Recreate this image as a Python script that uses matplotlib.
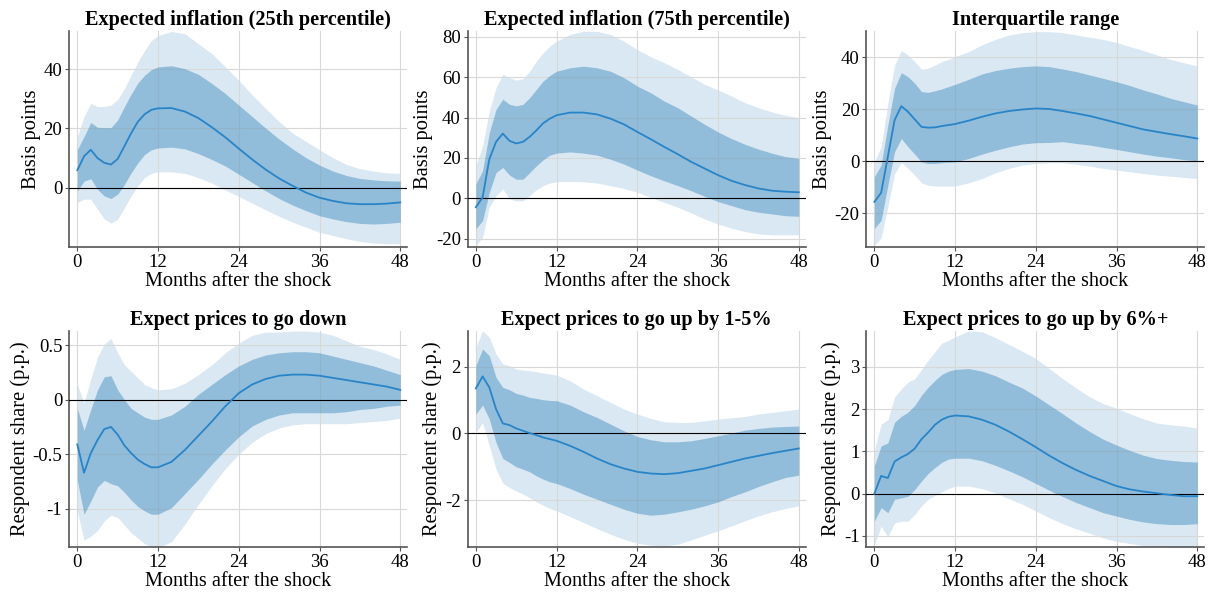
import matplotlib
matplotlib.use("Agg")
import matplotlib.pyplot as plt
import numpy as np

# months at which the responses are recorded
months = [0, 1, 2, 3, 4, 5, 6, 7, 8, 9, 10, 11, 12,
          14, 16, 18, 20, 22, 24, 26, 28, 30, 32, 34, 36, 38, 40, 42, 44, 46, 48]

# Expected inflation (25th percentile), basis points
p25_irf = [5.9, 10.6, 12.8, 10, 8.4, 7.8, 9.7, 14, 18.4, 22.3, 24.8, 26.3, 26.8,
           26.9, 25.7, 23.5, 20.4, 17, 13.2, 9.5, 6.1, 3.1, 0.6, -1.7, -3.4, -4.5, -5.3, -5.6, -5.6, -5.4, -5]
p25_hi68 = [12.8, 17.3, 22, 20.4, 20.3, 20.3, 22.9, 27.4, 31.6, 35.4, 38, 39.9, 40.8,
            41.2, 40.2, 38.3, 35.2, 31.8, 27.9, 24, 20.1, 16.4, 13.1, 10.1, 7.6, 5.6, 4.1, 3.1, 2.6, 2.3, 2.2]
p25_lo68 = [-1.1, 2.2, 3, -0.6, -2.8, -3.7, -2.2, 1.1, 5, 8.4, 11.2, 12.8, 13.4,
            13.7, 13.1, 11.5, 9.5, 7.3, 4.5, 1.7, -1.1, -3.7, -5.9, -7.8, -9.5, -10.6, -11.5, -12.1, -12.3, -12.1, -11.7]
p25_hi90 = [17.3, 24, 28.5, 27.4, 27.4, 27.9, 29.8, 33.5, 38, 42.5, 46.4, 49.7, 51.4,
            52.8, 52, 48.6, 45.3, 40.8, 36.3, 31.3, 26.8, 22.3, 18.4, 15.6, 12.8, 10.1, 7.8, 6.4, 5.6, 5, 4.8]
p25_lo90 = [-5, -3.9, -3.9, -7.3, -10.6, -12, -10.6, -6.7, -2.8, 0.6, 3.4, 4.8, 5.4,
            5.3, 4.8, 3.4, 1.5, -0.8, -3, -5.3, -7.5, -9.7, -11.7, -13.4, -15.1, -16.2, -17.3, -18.2, -18.7, -19, -19]

# Expected inflation (75th percentile), basis points
p75_irf = [-4.4, 0.5, 19.4, 28, 32.1, 28.5, 27.2, 28, 30.5, 33.7, 37.2, 39.5, 41.2,
           42.5, 42.5, 41.6, 39.5, 36.7, 32.9, 29.3, 25.5, 21.9, 18.1, 14.8, 11.5, 8.7, 6.6, 4.9, 3.8, 3.3, 3]
p75_hi68 = [7.1, 13.7, 32.6, 44.1, 49.1, 46.6, 45.8, 46.6, 49.9, 54, 58.1, 60.9, 63,
            64.7, 65.5, 64.7, 63, 59.8, 55.6, 52.3, 48.2, 44.9, 40.8, 36.7, 32.9, 29.6, 26.8, 24.4, 22.4, 20.7, 19.8]
p75_lo68 = [-15.1, -11, 3, 12.8, 15.3, 11.5, 9.5, 9.5, 12.8, 16.1, 19.1, 21.4, 22.4,
            23, 22.4, 21.4, 19.4, 17, 14, 11.2, 8.7, 6.3, 3.8, 1, -1.6, -3.6, -5.6, -6.9, -7.7, -8.6, -8.9]
p75_hi90 = [16.1, 26, 43.3, 54.8, 61.4, 59.8, 58.6, 59.3, 63, 68, 72.1, 75.4, 77.9,
            81.2, 82.8, 82.8, 81.2, 77.9, 73.7, 70.1, 67.2, 63.9, 60.2, 56.5, 53.7, 50.7, 47.4, 44.9, 42.8, 41.2, 40]
p75_lo90 = [-23.4, -19.3, -4.4, 1.3, 4.6, -0.3, -1.2, -1.2, 1.3, 4.3, 6.3, 7.6, 8.2,
            8.4, 8.2, 7.6, 6.3, 4.9, 3, 0.5, -2, -4.4, -7.2, -10.2, -12.7, -14.8, -16.5, -17.6, -18.1, -18.1, -18.1]

# Interquartile range, basis points
iqr_irf = [-15.7, -12.2, 1.7, 15.8, 21.2, 19, 16.1, 13.2, 12.9, 13, 13.5, 13.9, 14.3,
           15.6, 17.1, 18.4, 19.3, 19.9, 20.3, 20.1, 19.3, 18.4, 17.4, 16.1, 14.8, 13.5, 12.2, 11.3, 10.4, 9.6, 8.7]
iqr_hi68 = [-6, -1.5, 13.9, 28, 34.1, 32.5, 30, 26.8, 26.5, 27.1, 27.8, 28.7, 29.6,
            31.5, 33.6, 34.9, 35.8, 36.4, 36.7, 36.4, 35.5, 34.5, 33.2, 31.9, 30.6, 29.1, 27.4, 25.9, 24.2, 22.9, 21.6]
iqr_lo68 = [-26, -22.8, -9.3, 3.6, 8.7, 5.5, 2.7, -0.3, -0.9, -0.9, -0.6, -0.4, -0.3,
            1, 2.7, 4.2, 5.5, 6.6, 7.1, 7.2, 7.5, 6.8, 6.2, 5.3, 4.5, 3.6, 2.7, 1.9, 1.3, 0.6, 0.1]
iqr_hi90 = [-0.3, 5.5, 22.3, 37, 42.6, 40.9, 38.3, 35.4, 35.8, 37, 38.3, 39.2, 40.3,
            42.2, 44.8, 46.9, 48.6, 49.5, 49.9, 49.9, 49.5, 48.6, 47.7, 46.9, 45.7, 44.1, 42.6, 40.9, 39.2, 37.9, 36.7]
iqr_lo90 = [-32.4, -29.5, -17.6, -4.8, -0.6, -2.8, -5.4, -8.4, -9.3, -9.6, -9.6, -9.6, -9.6,
            -8.4, -6.7, -4.5, -2.8, -1.5, -0.9, -0.6, -0.6, -1.2, -1.9, -2.8, -3.5, -4.1, -4.8, -5.4, -5.8, -6.3, -6.7]

# Share expecting prices to go down, p.p.
down_irf = [-0.41, -0.67, -0.49, -0.37, -0.27, -0.25, -0.32, -0.42, -0.49, -0.55, -0.59, -0.62, -0.62,
            -0.57, -0.46, -0.33, -0.2, -0.06, 0.06, 0.14, 0.19, 0.22, 0.23, 0.23, 0.22, 0.2, 0.18, 0.16, 0.14, 0.12, 0.09]
down_hi68 = [-0.08, -0.28, -0.09, 0.09, 0.21, 0.22, 0.09, 0, -0.08, -0.12, -0.16, -0.18, -0.18,
             -0.14, -0.06, 0.05, 0.14, 0.23, 0.31, 0.37, 0.41, 0.43, 0.44, 0.44, 0.43, 0.4, 0.37, 0.34, 0.31, 0.27, 0.23]
down_lo68 = [-0.74, -1.05, -0.93, -0.8, -0.74, -0.77, -0.79, -0.85, -0.92, -0.98, -1.02, -1.05, -1.05,
             -0.99, -0.86, -0.73, -0.59, -0.46, -0.34, -0.24, -0.18, -0.14, -0.12, -0.12, -0.12, -0.12, -0.11, -0.09, -0.08, -0.06, -0.05]
down_hi90 = [0.14, -0.03, 0.19, 0.39, 0.51, 0.56, 0.43, 0.32, 0.26, 0.2, 0.14, 0.11, 0.09,
             0.1, 0.15, 0.23, 0.32, 0.43, 0.52, 0.59, 0.62, 0.62, 0.63, 0.63, 0.62, 0.59, 0.54, 0.49, 0.46, 0.42, 0.37]
down_lo90 = [-1.02, -1.29, -1.25, -1.2, -1.11, -1.06, -1.08, -1.15, -1.22, -1.27, -1.32, -1.35, -1.36,
             -1.3, -1.14, -0.96, -0.79, -0.63, -0.5, -0.39, -0.31, -0.26, -0.23, -0.22, -0.22, -0.22, -0.22, -0.21, -0.2, -0.19, -0.17]

# Share expecting prices to go up by 1-5%, p.p.
up15_irf = [1.35, 1.71, 1.38, 0.73, 0.3, 0.25, 0.15, 0.08, 0.01, -0.05, -0.12, -0.17, -0.22,
            -0.37, -0.55, -0.75, -0.92, -1.05, -1.15, -1.2, -1.22, -1.19, -1.12, -1.05, -0.95, -0.85, -0.75, -0.67, -0.59, -0.52, -0.45]
up15_hi68 = [2.03, 2.53, 2.33, 1.68, 1.38, 1.31, 1.2, 1.15, 1.08, 1.05, 1.01, 0.99, 0.98,
             0.85, 0.65, 0.48, 0.28, 0.08, -0.09, -0.19, -0.25, -0.25, -0.22, -0.15, -0.07, 0.01, 0.1, 0.15, 0.19, 0.21, 0.22]
up15_lo68 = [0.58, 0.85, 0.43, -0.27, -0.75, -0.87, -1, -1.07, -1.15, -1.27, -1.37, -1.45, -1.5,
             -1.65, -1.82, -1.97, -2.12, -2.27, -2.39, -2.45, -2.42, -2.35, -2.27, -2.17, -2.05, -1.89, -1.75, -1.59, -1.45, -1.32, -1.25]
up15_hi90 = [2.58, 3.08, 2.88, 2.38, 2.08, 2.03, 1.93, 1.9, 1.88, 1.85, 1.81, 1.78, 1.75,
             1.58, 1.33, 1.13, 0.93, 0.73, 0.58, 0.45, 0.35, 0.33, 0.33, 0.38, 0.43, 0.47, 0.51, 0.58, 0.63, 0.68, 0.73]
up15_lo90 = [0.03, 0.33, -0.37, -1.07, -1.49, -1.62, -1.72, -1.82, -1.92, -2.05, -2.15, -2.25, -2.32,
             -2.49, -2.67, -2.85, -3.02, -3.17, -3.29, -3.35, -3.37, -3.32, -3.19, -3.05, -2.92, -2.77, -2.62, -2.47, -2.35, -2.25, -2.17]

# Share expecting prices to go up by 6%+, p.p.
up6_irf = [0, 0.42, 0.37, 0.76, 0.86, 0.94, 1.07, 1.29, 1.45, 1.63, 1.75, 1.82, 1.85,
           1.83, 1.75, 1.63, 1.47, 1.29, 1.1, 0.9, 0.72, 0.56, 0.42, 0.3, 0.18, 0.1, 0.05, 0.01, -0.03, -0.06, -0.06]
up6_hi68 = [0.66, 1.13, 1.2, 1.69, 1.83, 1.93, 2.09, 2.33, 2.52, 2.68, 2.82, 2.9, 2.94,
            2.96, 2.9, 2.79, 2.64, 2.5, 2.31, 2.1, 1.89, 1.67, 1.47, 1.29, 1.15, 1.02, 0.91, 0.83, 0.79, 0.76, 0.75]
up6_lo68 = [-0.65, -0.33, -0.45, -0.13, -0.1, -0.06, 0.1, 0.3, 0.48, 0.62, 0.74, 0.82, 0.84,
            0.84, 0.78, 0.67, 0.54, 0.4, 0.24, 0.08, -0.07, -0.21, -0.33, -0.45, -0.53, -0.61, -0.67, -0.71, -0.73, -0.73, -0.71]
up6_hi90 = [1.02, 1.65, 1.75, 2.29, 2.48, 2.64, 2.72, 2.94, 3.16, 3.36, 3.56, 3.63, 3.71,
            3.85, 3.83, 3.69, 3.53, 3.37, 3.2, 2.96, 2.72, 2.5, 2.29, 2.13, 2.02, 1.89, 1.77, 1.67, 1.63, 1.6, 1.55]
up6_lo90 = [-1.21, -0.77, -1.02, -0.69, -0.65, -0.65, -0.49, -0.29, -0.13, -0.04, 0.04, 0.12, 0.18,
            0.18, 0.12, 0.02, -0.12, -0.25, -0.41, -0.57, -0.71, -0.83, -0.94, -1.05, -1.13, -1.18, -1.23, -1.25, -1.26, -1.26, -1.26]

titles = ["Expected inflation (25th percentile)", "Expected inflation (75th percentile)",
          "Interquartile range", "Expect prices to go down",
          "Expect prices to go up by 1-5%", "Expect prices to go up by 6%+"]
ylabels = ["Basis points", "Basis points", "Basis points",
           "Respondent share (p.p.)", "Respondent share (p.p.)", "Respondent share (p.p.)"]
panels = [
    (p25_irf, p25_lo68, p25_hi68, p25_lo90, p25_hi90),
    (p75_irf, p75_lo68, p75_hi68, p75_lo90, p75_hi90),
    (iqr_irf, iqr_lo68, iqr_hi68, iqr_lo90, iqr_hi90),
    (down_irf, down_lo68, down_hi68, down_lo90, down_hi90),
    (up15_irf, up15_lo68, up15_hi68, up15_lo90, up15_hi90),
    (up6_irf, up6_lo68, up6_hi68, up6_lo90, up6_hi90),
]
yticks = [[0, 20, 40], [-20, 0, 20, 40, 60, 80], [-20, 0, 20, 40],
          [-1, -0.5, 0, 0.5], [-2, 0, 2], [-1, 0, 1, 2, 3]]
yticklabels = [["0", "20", "40"], ["-20", "0", "20", "40", "60", "80"], ["-20", "0", "20", "40"],
               ["-1", "-0.5", "0", "0.5"], ["-2", "0", "2"], ["-1", "0", "1", "2", "3"]]
ylims = [(-20, 53), (-24, 83), (-33, 50.2), (-1.35, 0.63), (-3.4, 3.07), (-1.26, 3.85)]

plt.rcParams['font.family'] = ['Liberation Serif', 'DejaVu Serif']
plt.rcParams['font.size'] = 13

BLUE = '#1f77b4'
LINE = '#2884c8'

fig, axs = plt.subplots(2, 3, figsize=(12.15, 6.05), dpi=100)
plt.subplots_adjust(left=0.057, right=0.991, top=0.949, bottom=0.096, wspace=0.18, hspace=0.39)

x = np.array(months)
for k, ax in enumerate(axs.flat):
    irf, lo68, hi68, lo90, hi90 = panels[k]
    ax.grid(True, color='#d8d8d8', linewidth=0.8, zorder=0)
    ax.fill_between(x, lo90, hi90, color=BLUE, alpha=0.17, linewidth=0, zorder=1)
    ax.fill_between(x, lo68, hi68, color=BLUE, alpha=0.38, linewidth=0, zorder=2)
    ax.axhline(0, color='black', linewidth=0.8, zorder=3)
    ax.plot(x, irf, color=LINE, linewidth=1.3, zorder=4)

    ax.set_title(titles[k], fontweight='bold', fontsize=14.6, pad=4)
    ax.set_ylabel(ylabels[k], fontsize=14.8, labelpad=2)
    ax.set_xlabel('Months after the shock', fontsize=14.6, labelpad=1)
    ax.set_xlim(-1.2, 49)
    ax.set_xticks([0, 12, 24, 36, 48])
    ax.set_ylim(*ylims[k])
    ax.set_yticks(yticks[k], yticklabels[k])
    ax.tick_params(labelsize=13.5, length=3, width=0.8, color='#555555', pad=2)
    for side in ['top', 'right']:
        ax.spines[side].set_visible(False)
    for side in ['left', 'bottom']:
        ax.spines[side].set_color('#555555')
        ax.spines[side].set_linewidth(1.2)

plt.savefig('out.png', dpi=100)
